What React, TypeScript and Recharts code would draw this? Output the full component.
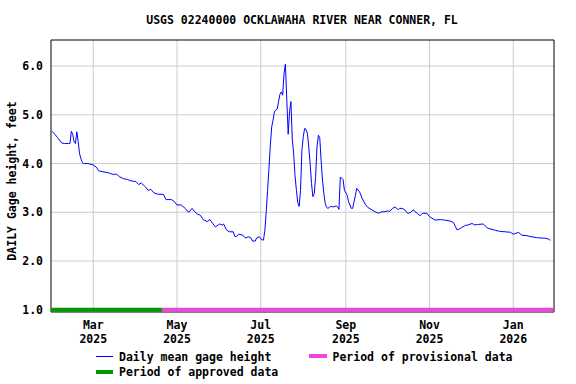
import React from 'react';
import { LineChart, Line, XAxis, YAxis, CartesianGrid, ReferenceArea } from 'recharts';

// Days since 2025-01-29
const gageDays = [
  1, 3, 5, 8, 10, 13, 14, 15, 16, 17, 18, 19, 20, 21, 22, 23, 24, 27, 31, 33, 35, 38, 42, 45, 48, 50,
  53, 56, 59, 62, 64, 66, 69, 71, 73, 75, 78, 82, 84, 88, 90, 92, 95, 98, 100, 101, 103, 105, 107, 109,
  111, 114, 116, 118, 120, 122, 123, 125, 126, 128, 130, 133, 134, 135, 137, 140, 142, 144, 146, 147,
  149, 150, 152, 154, 155, 156,
  157, 158, 159, 160, 161, 162, 163, 164, 165, 166, 167, 168, 169, 170, 171, 172, 173, 174, 175, 176,
  177, 178, 179, 180, 181, 182, 183, 184, 185, 186, 187, 188, 189, 190, 191, 192, 193, 194, 195, 196,
  197, 198, 199, 200, 201, 202, 204, 206, 208, 209, 210, 211, 212, 213, 214, 216, 217, 219, 220, 222,
  223, 225, 227, 229, 231, 234, 237, 239, 241, 243, 246, 247, 249, 251, 253, 254, 256, 258, 260, 262,
  264, 267, 269, 271, 274, 276, 280, 284, 287, 291, 293, 294, 295, 296, 298, 299, 302, 304, 307, 309,
  311, 315, 316, 318, 320, 324, 327, 331, 335, 337, 339, 341, 343, 347, 350, 354, 358, 360, 363, 364,
];
const gageHeights = [
  4.66, 4.6, 4.53, 4.42, 4.41, 4.41, 4.41, 4.66, 4.6, 4.45, 4.41, 4.65, 4.45, 4.2, 4.1, 4.02, 4.0, 4.0,
  3.97, 3.93, 3.85, 3.83, 3.81, 3.78, 3.78, 3.73, 3.69, 3.67, 3.64, 3.63, 3.57, 3.6, 3.52, 3.45, 3.47,
  3.4, 3.37, 3.37, 3.26, 3.26, 3.22, 3.15, 3.15, 3.08, 3.01, 3.01, 3.08, 3.01, 2.96, 2.94, 2.85, 2.81,
  2.85, 2.77, 2.7, 2.74, 2.76, 2.74, 2.76, 2.64, 2.6, 2.6, 2.51, 2.5, 2.55, 2.53, 2.47, 2.5, 2.47, 2.41,
  2.41, 2.47, 2.5, 2.43, 2.43, 2.62,
  3.01, 3.45, 3.9, 4.38, 4.75, 4.89, 5.06, 5.1, 5.12, 5.27, 5.42, 5.47, 5.4, 5.85, 6.04, 5.3, 4.6, 5.06,
  5.27, 4.5, 4.2, 3.75, 3.45, 3.2, 3.12, 3.45, 4.27, 4.55, 4.72, 4.7, 4.62, 4.34, 4.0, 3.59, 3.32, 3.38,
  3.73, 4.34, 4.58, 4.53, 4.07, 3.66, 3.39, 3.18, 3.1, 3.08, 3.12, 3.11, 3.13, 3.11, 3.06, 3.72, 3.7,
  3.67, 3.45, 3.35, 3.22, 3.08, 3.08, 3.35, 3.49, 3.42, 3.28, 3.17, 3.1, 3.05, 3.0, 2.98, 3.01, 3.01,
  3.03, 3.02, 3.08, 3.11, 3.05, 3.08, 3.08, 3.05, 2.98, 2.99, 3.05, 2.98, 2.93, 2.98, 2.98, 2.91, 2.84,
  2.85, 2.84, 2.82, 2.8, 2.76, 2.7, 2.64, 2.66, 2.68, 2.73, 2.74, 2.77, 2.74, 2.75, 2.76, 2.74, 2.68,
  2.66, 2.63, 2.61, 2.6, 2.59, 2.55, 2.57, 2.59, 2.53, 2.52, 2.5, 2.48, 2.47, 2.47, 2.45, 2.42,
];

const monthTicks = [31, 92, 153, 215, 276, 337];
const monthLabels = ['Mar', 'May', 'Jul', 'Sep', 'Nov', 'Jan'];
const yearLabels = ['2025', '2025', '2025', '2025', '2025', '2026'];
const yTicks = [1, 2, 3, 4, 5, 6];

const approvedDays = [0, 81];
const provisionalDays = [81, 366.2];
const periodLevel = 1.0;

const xDomain: [number, number] = [0.18, 366.7];
const yDomain: [number, number] = [0.955, 6.533];

const FONT = '"DejaVu Sans Mono", "Liberation Mono", monospace';

const gageData = gageDays.map((d, i) => ({ day: d, v: gageHeights[i] }));
const approvedData = approvedDays.map((d) => ({ day: d, v: periodLevel }));
const provisionalData = provisionalDays.map((d) => ({ day: d, v: periodLevel }));

const XTick = (props: any) => {
  const { x, payload } = props;
  const i = monthTicks.indexOf(payload.value);
  return (
    <text x={x} textAnchor="middle" fontFamily={FONT} fontWeight="bold" fontSize={11.5} fill="#000">
      <tspan x={x} y={329}>{monthLabels[i]}</tspan>
      <tspan x={x} y={343}>{yearLabels[i]}</tspan>
    </text>
  );
};

const YTick = (props: any) => {
  const { y, payload } = props;
  return (
    <text x={43} y={y} dy={4} textAnchor="end" fontFamily={FONT} fontWeight="bold" fontSize={11.5} fill="#000">
      {Number(payload.value).toFixed(1)}
    </text>
  );
};

export default function App() {
  return (
    <div style={{ position: 'absolute', left: 0, top: 0, width: 576, height: 384, background: '#fff' }}>
      <LineChart width={576} height={384} margin={{ top: 40, right: 22, bottom: 0, left: 0 }}>
        <CartesianGrid stroke="#cccccc" strokeWidth={1} horizontalValues={yTicks} verticalValues={monthTicks} />
        <XAxis
          dataKey="day"
          type="number"
          domain={xDomain}
          ticks={monthTicks}
          allowDataOverflow
          height={72}
          tickLine={false}
          axisLine={false}
          tick={<XTick />}
          interval={0}
        />
        <YAxis
          type="number"
          domain={yDomain}
          ticks={yTicks}
          allowDataOverflow
          width={51}
          tickLine={false}
          axisLine={false}
          tick={<YTick />}
          interval={0}
        />
        <ReferenceArea x1={xDomain[0]} x2={xDomain[1]} y1={yDomain[0]} y2={yDomain[1]} fill="none" stroke="#000" strokeWidth={1} fillOpacity={0} />
        <Line data={approvedData} dataKey="v" stroke="#009900" strokeWidth={4} dot={false} isAnimationActive={false} type="linear" />
        <Line data={provisionalData} dataKey="v" stroke="#ea48dc" strokeWidth={4} dot={false} isAnimationActive={false} type="linear" />
        <Line data={gageData} dataKey="v" stroke="#0000ff" strokeWidth={1} dot={false} isAnimationActive={false} type="linear" />
      </LineChart>
      <svg width={576} height={384} style={{ position: 'absolute', left: 0, top: 0, pointerEvents: 'none' }}>
        <text x={302} y={24} textAnchor="middle" fontFamily={FONT} fontWeight="bold" fontSize={11.5} fill="#000">
          USGS 02240000 OCKLAWAHA RIVER NEAR CONNER, FL
        </text>
        <text x={16} y={181} transform="rotate(-90 16 181)" textAnchor="middle" fontFamily={FONT} fontWeight="bold" fontSize={11.5} fill="#000">
          DAILY Gage height, feet
        </text>
        <line x1={96} x2={113} y1={356.5} y2={356.5} stroke="#0000ff" strokeWidth={1} />
        <text x={119} y={360.5} fontFamily={FONT} fontWeight="bold" fontSize={11.5} fill="#000">Daily mean gage height</text>
        <line x1={309} x2={327} y1={356} y2={356} stroke="#ea48dc" strokeWidth={4} />
        <text x={332.5} y={360.5} fontFamily={FONT} fontWeight="bold" fontSize={11.5} fill="#000">Period of provisional data</text>
        <line x1={96} x2={113} y1={372} y2={372} stroke="#009900" strokeWidth={4} />
        <text x={119} y={376} fontFamily={FONT} fontWeight="bold" fontSize={11.5} fill="#000">Period of approved data</text>
      </svg>
    </div>
  );
}
